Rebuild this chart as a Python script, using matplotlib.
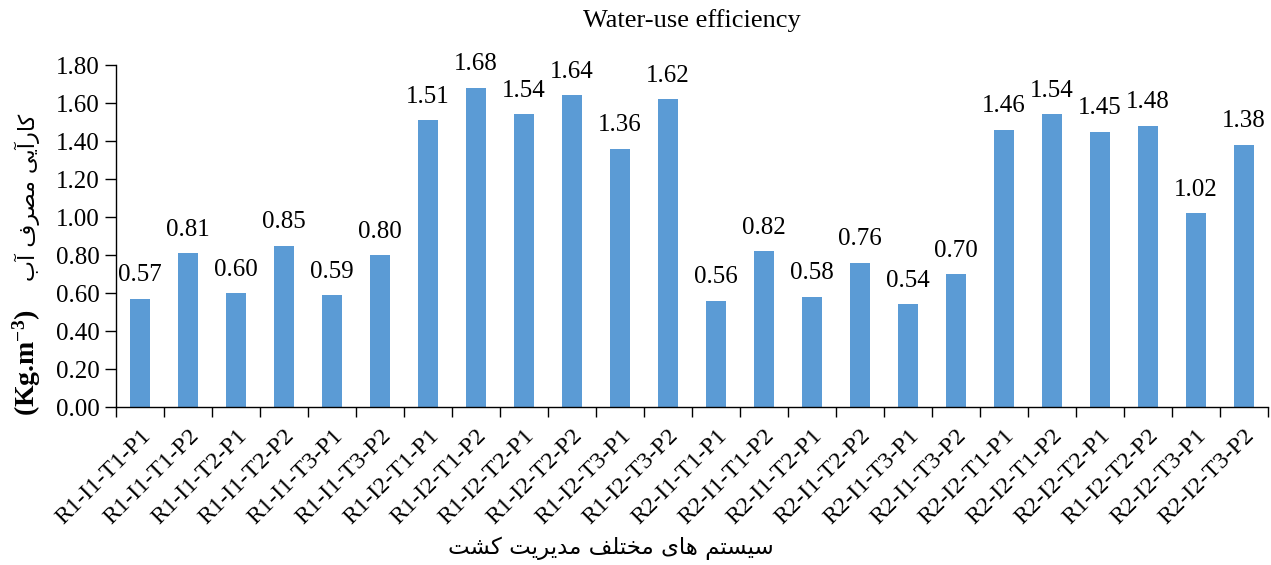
import numpy as np
import matplotlib
matplotlib.use("Agg")
import matplotlib.pyplot as plt

# data
labels = [
    "R1-I1-T1-P1", "R1-I1-T1-P2", "R1-I1-T2-P1", "R1-I1-T2-P2", "R1-I1-T3-P1", "R1-I1-T3-P2",
    "R1-I2-T1-P1", "R1-I2-T1-P2", "R1-I2-T2-P1", "R1-I2-T2-P2", "R1-I2-T3-P1", "R1-I2-T3-P2",
    "R2-I1-T1-P1", "R2-I1-T1-P2", "R2-I1-T2-P1", "R2-I1-T2-P2", "R2-I1-T3-P1", "R2-I1-T3-P2",
    "R2-I2-T1-P1", "R2-I2-T1-P2", "R2-I2-T2-P1", "R1-I2-T2-P2", "R2-I2-T3-P1", "R2-I2-T3-P2",
]
wue = [0.57, 0.81, 0.60, 0.85, 0.59, 0.80, 1.51, 1.68, 1.54, 1.64, 1.36, 1.62,
       0.56, 0.82, 0.58, 0.76, 0.54, 0.70, 1.46, 1.54, 1.45, 1.48, 1.02, 1.38]
yticks = [0.0, 0.2, 0.4, 0.6, 0.8, 1.0, 1.2, 1.4, 1.6, 1.8]

title = "Water-use efficiency"
ylabel_fa = "کارآیی مصرف آب"
ylabel_unit = "(Kg.m$^{-3}$)"
xlabel_fa = "سیستم های مختلف مدیریت کشت"

# minimal persian shaping: matplotlib has no complex text layout
FORMS = {  # isolated, final, initial, medial
    "\u0627": ("\uFE8D", "\uFE8E", None, None),
    "\u0622": ("\uFE81", "\uFE82", None, None),
    "\u062F": ("\uFEA9", "\uFEAA", None, None),
    "\u0631": ("\uFEAD", "\uFEAE", None, None),
    "\u0628": ("\uFE8F", "\uFE90", "\uFE91", "\uFE92"),
    "\u062A": ("\uFE95", "\uFE96", "\uFE97", "\uFE98"),
    "\u062E": ("\uFEA5", "\uFEA6", "\uFEA7", "\uFEA8"),
    "\u0633": ("\uFEB1", "\uFEB2", "\uFEB3", "\uFEB4"),
    "\u0634": ("\uFEB5", "\uFEB6", "\uFEB7", "\uFEB8"),
    "\u0635": ("\uFEB9", "\uFEBA", "\uFEBB", "\uFEBC"),
    "\u0641": ("\uFED1", "\uFED2", "\uFED3", "\uFED4"),
    "\u0644": ("\uFEDD", "\uFEDE", "\uFEDF", "\uFEE0"),
    "\u0645": ("\uFEE1", "\uFEE2", "\uFEE3", "\uFEE4"),
    "\u0647": ("\uFEE9", "\uFEEA", "\uFEEB", "\uFEEC"),
    "\u06CC": ("\uFBFC", "\uFBFD", "\uFBFE", "\uFBFF"),
    "\u06A9": ("\uFB8E", "\uFB8F", "\uFB90", "\uFB91"),
}


def shape(text):
    out = []
    for i, ch in enumerate(text):
        if ch not in FORMS:
            out.append(ch)
            continue
        prev = text[i - 1] if i > 0 else ""
        nxt = text[i + 1] if i + 1 < len(text) else ""
        jp = prev in FORMS and FORMS[prev][2] is not None
        jn = FORMS[ch][2] is not None and nxt in FORMS
        iso, fin, ini, med = FORMS[ch]
        if jp and jn:
            out.append(med)
        elif jp:
            out.append(fin)
        elif jn:
            out.append(ini)
        else:
            out.append(iso)
    return "".join(out)[::-1]


plt.rcParams["font.family"] = ["Liberation Serif", "DejaVu Sans"]
plt.rcParams["mathtext.fontset"] = "custom"
plt.rcParams["mathtext.rm"] = "Liberation Serif:bold"
plt.rcParams["mathtext.it"] = "Liberation Serif:bold"
plt.rcParams["mathtext.bf"] = "Liberation Serif:bold"

W, H = 1271, 565
fig = plt.figure(figsize=(W / 100, H / 100), dpi=100)
ax = fig.add_axes([116 / W, 1 - 407 / H, 1152 / W, 342 / H])

x = np.arange(len(wue))
bars = ax.bar(x, wue, width=0.4, color="#5B9BD5", zorder=2)
for xi, v in zip(x, wue):
    ax.annotate(f"{v:.2f}", (xi, v), xytext=(0, 12.5), textcoords="offset points",
                ha="center", va="baseline", fontsize=18)

ax.set_xlim(-0.5, len(wue) - 0.5)
ax.set_ylim(0, 1.8)
ax.set_yticks(yticks)
ax.set_yticklabels([f"{t:.2f}" for t in yticks], fontsize=18)
ax.set_xticks(np.arange(len(wue) + 1) - 0.5)
ax.set_xticklabels([])
ax.set_xticks(x, minor=True)
ax.set_xticklabels(labels, minor=True, rotation=45, ha="right",
                   rotation_mode="anchor", fontsize=17.5)
ax.tick_params(axis="x", which="minor", length=0, pad=13)
ax.tick_params(axis="x", which="major", length=7, direction="out", width=1)
ax.tick_params(axis="y", length=8, direction="out", width=1, pad=4)

for s in ("top", "right"):
    ax.spines[s].set_visible(False)
for s in ("left", "bottom"):
    ax.spines[s].set_linewidth(1)

fig.text(692 / W, 1 - 21 / H, title, ha="center", va="center", fontsize=19)

# axis labels (persian parts drawn with DejaVu Sans)
fig.text(27 / W, 1 - 416 / H, ylabel_unit, rotation=90, rotation_mode="anchor",
         ha="left", va="center", fontsize=20, fontweight="bold")
fig.text(27 / W, 1 - 281 / H, shape(ylabel_fa), rotation=90, rotation_mode="anchor",
         ha="left", va="center", fontsize=16, family="DejaVu Sans")
fig.text(611 / W, 1 - 548 / H, shape(xlabel_fa), ha="center", va="center",
         fontsize=16.5, family="DejaVu Sans")

fig.savefig("out.png", dpi=100)
